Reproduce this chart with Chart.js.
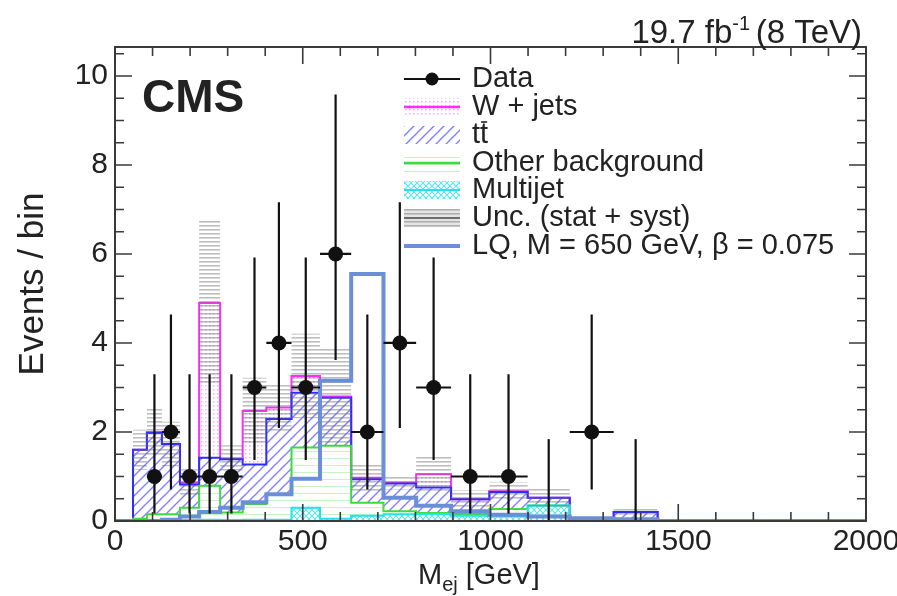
<!DOCTYPE html>
<html>
<head>
<meta charset="utf-8">
<script src="https://cdn.jsdelivr.net/npm/chart.js@4.4.1/dist/chart.umd.min.js"></script>
<style>
  html, body { margin: 0; padding: 0; background: #ffffff; }
  #wrap { width: 897px; height: 596px; position: relative; }
</style>
</head>
<body>
<div id="wrap"><canvas id="c" width="897" height="596"></canvas></div>
<script>
// ---------------- values (events per bin, variable-width M_ej bins in GeV) ----------------
const binEdges  = [48, 85, 125, 173, 224, 280, 340, 403, 470, 546, 629, 715, 802, 895, 997, 1099, 1211, 1328, 1445];
const multijet  = [0, 0, 0, 0.02, 0.03, 0.02, 0.03, 0.03, 0.30, 0.05, 0.12, 0.15, 0.16, 0.12, 0.10, 0.35, 0, 0];
const otherBkg  = [0.05, 0.15, 0.15, 0.28, 0.76, 0.17, 0.35, 0.57, 1.35, 1.64, 0.29, 0.07, 0.02, 0.04, 0.17, 0, 0, 0];
const ttbar     = [1.55, 1.83, 1.58, 0.52, 0.63, 1.20, 0.89, 1.69, 1.23, 1.08, 0.53, 0.62, 0.57, 0.33, 0.38, 0.17, 0, 0.20];
const wjets     = [0, 0.02, 0, 0.04, 3.48, 0.01, 1.20, 0.26, 0.38, 0.03, 0.03, 0.02, 0.30, 0, 0.02, 0, 0, 0];
const bkgUnc    = [0.45, 0.55, 0.50, 0.30, 1.84, 0.30, 0.75, 0.55, 0.95, 1.10, 0.30, 0.15, 0.40, 0.20, 0.20, 0.20, 0, 0.10];

const lqEdges   = [0, 48, 85, 125, 173, 224, 280, 340, 403, 470, 546, 629, 715, 802, 895, 997, 1099, 1211, 1328, 1445, 2000];
const lqSignal  = [0, 0, 0, 0.03, 0.10, 0.20, 0.30, 0.42, 0.60, 0.95, 3.15, 5.55, 0.52, 0.34, 0.22, 0.14, 0.10, 0.06, 0.04, 0];

const dataCounts  = [null, 1, 2, 1, 1, 1, 3, 4, 3, 6, 2, 4, 3, 1, 1, 0, 2, 0];
const dataErrLow  = [null, 0.83, 1.29, 0.83, 0.83, 0.83, 1.63, 1.91, 1.63, 2.38, 1.29, 1.91, 1.63, 0.83, 0.83, 0, 1.29, 0];
const dataErrHigh = [null, 2.30, 2.64, 2.30, 2.30, 2.30, 2.92, 3.16, 2.92, 3.58, 2.64, 3.16, 2.92, 2.30, 2.30, 1.84, 2.64, 1.84];

const xTickLabels = [0, 500, 1000, 1500, 2000];
const yTickLabels = [0, 2, 4, 6, 8, 10];
const xMinorStep = 100;
const yMinorStep = 0.5;
const xRange = [0, 2000];
const yRange = [0, 10.65];

// ---------------- helpers ----------------
const ctx0 = document.getElementById('c').getContext('2d');

function makePattern(size, draw) {
  const c = document.createElement('canvas');
  c.width = size; c.height = size;
  const g = c.getContext('2d');
  draw(g, size);
  return ctx0.createPattern(c, 'repeat');
}
function diag(g, s, dir) {
  g.beginPath();
  if (dir > 0) {
    g.moveTo(0, s); g.lineTo(s, 0);
    g.moveTo(-s, s); g.lineTo(s, -s);
    g.moveTo(0, 2 * s); g.lineTo(2 * s, 0);
  } else {
    g.moveTo(0, 0); g.lineTo(s, s);
    g.moveTo(-s, 0); g.lineTo(s, 2 * s);
    g.moveTo(0, -s); g.lineTo(2 * s, s);
  }
  g.stroke();
}

const patTT = makePattern(10, (g, s) => { g.strokeStyle = '#8080ff'; g.lineWidth = 1.4; diag(g, s, 1); });
const patOther = makePattern(7, (g, s) => { g.fillStyle = 'rgba(130,230,130,0.45)'; g.fillRect(0, 3, s, 1); });
const patMJ = makePattern(6, (g, s) => { g.strokeStyle = '#55e8f2'; g.lineWidth = 1.1; diag(g, s, 1); diag(g, s, -1); });
const patW = makePattern(4, (g, s) => { g.fillStyle = '#ffa6ff'; g.fillRect(1, 1, 1.5, 1.5); });
const patUnc = makePattern(4, (g, s) => { g.fillStyle = 'rgba(110,110,110,0.45)'; g.fillRect(0, 1, s, 1.6); });

// step outline of a histogram, optionally closed down to zero at both ends
function stepPoints(edges, vals, closed) {
  const pts = [];
  if (closed) pts.push({ x: edges[0], y: 0 });
  for (let i = 0; i < vals.length; i++) pts.push({ x: edges[i], y: vals[i] });
  pts.push({ x: edges[edges.length - 1], y: vals[vals.length - 1] });
  if (closed) pts.push({ x: edges[edges.length - 1], y: 0 });
  return pts;
}

const cumMJ = multijet.map(v => v);
const cumOther = cumMJ.map((v, i) => v + otherBkg[i]);
const cumTT = cumOther.map((v, i) => v + ttbar[i]);
const cumW = cumTT.map((v, i) => v + wjets[i]);
const uncLow = cumW.map((v, i) => Math.max(0, v - bkgUnc[i]));
const uncHigh = cumW.map((v, i) => v + bkgUnc[i]);

const COL = {
  mj: '#27dff0', other: '#3ddc3d', tt: '#2d2dff', w: '#ff2cff', lq: '#6b8fd6', data: '#111111', frame: '#3a3a3a'
};

function lineDs(label, pts, color, bg, fill, order, width) {
  return {
    label, data: pts, borderColor: color, backgroundColor: bg, fill, order,
    borderWidth: width, stepped: true, pointRadius: 0, pointHoverRadius: 0, tension: 0
  };
}

const datasets = [
  lineDs('Multijet', stepPoints(binEdges, cumMJ, true), COL.mj, patMJ, 'origin', 10, 2),
  lineDs('Other background', stepPoints(binEdges, cumOther, true), COL.other, patOther, '-1', 11, 2),
  lineDs('tt', stepPoints(binEdges, cumTT, true), COL.tt, patTT, '-1', 12, 2),
  lineDs('W + jets', stepPoints(binEdges, cumW, true), COL.w, patW, '-1', 13, 2),
  lineDs('unc-low', stepPoints(binEdges, uncLow, false), 'rgba(0,0,0,0)', 'rgba(0,0,0,0)', false, 5, 0),
  lineDs('Unc. (stat + syst)', stepPoints(binEdges, uncHigh, false), 'rgba(0,0,0,0)', patUnc, '-1', 4, 0),
  lineDs('LQ', stepPoints(lqEdges, lqSignal, false), COL.lq, 'rgba(0,0,0,0)', false, 1, 4)
];

const FONT = '"Liberation Sans", Arial, Helvetica, sans-serif';

// data points with asymmetric Poisson error bars
const dataPointsPlugin = {
  id: 'dataPoints',
  afterDatasetsDraw(chart) {
    const { ctx, scales: { x, y } } = chart;
    ctx.save();
    ctx.strokeStyle = COL.data;
    ctx.fillStyle = COL.data;
    ctx.lineWidth = 2.2;
    for (let i = 0; i < dataCounts.length; i++) {
      const n = dataCounts[i];
      if (n === null) continue;
      const cx = x.getPixelForValue((binEdges[i] + binEdges[i + 1]) / 2);
      const cy = y.getPixelForValue(n);
      ctx.beginPath();
      ctx.moveTo(cx, y.getPixelForValue(n - dataErrLow[i]));
      ctx.lineTo(cx, y.getPixelForValue(n + dataErrHigh[i]));
      if (n > 0) {
        ctx.moveTo(x.getPixelForValue(binEdges[i]), cy);
        ctx.lineTo(x.getPixelForValue(binEdges[i + 1]), cy);
      }
      ctx.stroke();
      if (n > 0) {
        ctx.beginPath();
        ctx.arc(cx, cy, 7.5, 0, Math.PI * 2);
        ctx.fill();
      }
    }
    ctx.restore();
  }
};

// frame with inward ticks, labels, titles and legend
const decorPlugin = {
  id: 'decor',
  afterDraw(chart) {
    const { ctx, chartArea: a, scales: { x, y } } = chart;
    ctx.save();
    // frame
    ctx.strokeStyle = COL.frame;
    ctx.lineWidth = 2;
    ctx.strokeRect(a.left, a.top, a.right - a.left, a.bottom - a.top);
    // ticks
    ctx.lineWidth = 1.6;
    ctx.beginPath();
    for (let v = xRange[0]; v <= xRange[1] + 1e-6; v += xMinorStep) {
      const px = x.getPixelForValue(v);
      const len = (Math.abs(v % 500) < 1e-6) ? 17 : 9;
      ctx.moveTo(px, a.bottom); ctx.lineTo(px, a.bottom - len);
      ctx.moveTo(px, a.top); ctx.lineTo(px, a.top + len);
    }
    for (let v = yRange[0]; v <= yRange[1] + 1e-6; v += yMinorStep) {
      const py = y.getPixelForValue(v);
      const len = (Math.abs(v % 2) < 1e-6) ? 17 : 9;
      ctx.moveTo(a.left, py); ctx.lineTo(a.left + len, py);
      ctx.moveTo(a.right, py); ctx.lineTo(a.right - len, py);
    }
    ctx.stroke();

    // tick labels
    ctx.fillStyle = '#222';
    ctx.font = '30px ' + FONT;
    ctx.textAlign = 'center';
    ctx.textBaseline = 'middle';
    xTickLabels.forEach(v => ctx.fillText(String(v), x.getPixelForValue(v), a.bottom + 21));
    ctx.textAlign = 'right';
    yTickLabels.forEach(v => ctx.fillText(String(v), a.left - 7, y.getPixelForValue(v)));

    // y title
    ctx.save();
    ctx.translate(33, (a.top + a.bottom) / 2);
    ctx.rotate(-Math.PI / 2);
    ctx.textAlign = 'center';
    ctx.font = '35px ' + FONT;
    ctx.fillText('Events / bin', 0, 0);
    ctx.restore();

    // x title with subscript
    ctx.textAlign = 'left';
    ctx.textBaseline = 'alphabetic';
    let tx = 418;
    const tb = 584;
    ctx.font = '29px ' + FONT;
    ctx.fillText('M', tx, tb); tx += ctx.measureText('M').width;
    ctx.font = '20px ' + FONT;
    ctx.fillText('ej', tx, tb + 7); tx += ctx.measureText('ej').width;
    ctx.font = '29px ' + FONT;
    ctx.fillText(' [GeV]', tx, tb);

    // luminosity label
    const p1 = '19.7 fb', p3 = '(8 TeV)';
    ctx.font = '33px ' + FONT; const w1 = ctx.measureText(p1).width; const w3 = ctx.measureText(p3).width;
    ctx.font = '20px ' + FONT; const w2 = ctx.measureText('-1 ').width;
    let lx = 862 - (w1 + w2 + w3);
    const lb = 43;
    ctx.font = '33px ' + FONT; ctx.fillText(p1, lx, lb); lx += w1;
    ctx.font = '20px ' + FONT; ctx.fillText('-1', lx, lb - 13); lx += w2;
    ctx.font = '33px ' + FONT; ctx.fillText(p3, lx, lb);

    // CMS
    ctx.font = 'bold 46px ' + FONT;
    ctx.fillText('CMS', 142, 112);

    // legend
    const lgX0 = 404, lgX1 = 460, txtX = 472;
    const rowY = [79, 107, 135, 163, 190, 218, 246];
    const boxH = 18;
    ctx.font = '29px ' + FONT;
    ctx.textBaseline = 'middle';
    const labels = ['Data', 'W + jets', 'tt', 'Other background', 'Multijet', 'Unc. (stat + syst)', 'LQ, M = 650 GeV, \u03b2 = 0.075'];
    labels.forEach((t, i) => { ctx.fillStyle = '#222'; ctx.fillText(t, txtX, rowY[i]); });
    // bar over second t of tt
    {
      const wt = ctx.measureText('t').width;
      ctx.strokeStyle = '#222'; ctx.lineWidth = 1.6;
      ctx.beginPath();
      ctx.moveTo(txtX + wt + 1, rowY[2] - 13); ctx.lineTo(txtX + 2 * wt - 1, rowY[2] - 13);
      ctx.stroke();
    }
    // swatches
    function box(i, pat) { ctx.fillStyle = pat; ctx.fillRect(lgX0, rowY[i] - boxH / 2, lgX1 - lgX0, boxH); }
    function hline(i, col, w) { ctx.strokeStyle = col; ctx.lineWidth = w; ctx.beginPath(); ctx.moveTo(lgX0, rowY[i]); ctx.lineTo(lgX1, rowY[i]); ctx.stroke(); }
    hline(0, COL.data, 2);
    ctx.fillStyle = COL.data; ctx.beginPath(); ctx.arc((lgX0 + lgX1) / 2, rowY[0], 6.5, 0, Math.PI * 2); ctx.fill();
    box(1, patW); hline(1, COL.w, 2.5);
    box(2, patTT);
    box(3, patOther); hline(3, COL.other, 2.5);
    box(4, patMJ); hline(4, COL.mj, 2);
    ctx.fillStyle = 'rgba(210,210,210,0.6)'; ctx.fillRect(lgX0, rowY[5] - boxH / 2, lgX1 - lgX0, boxH);
    box(5, patUnc); hline(5, '#555', 1.5);
    hline(6, COL.lq, 4);
    ctx.restore();
  }
};

new Chart(document.getElementById('c'), {
  type: 'line',
  data: { datasets },
  options: {
    responsive: false,
    animation: false,
    devicePixelRatio: 1,
    layout: { padding: { left: 115, right: 31, top: 47, bottom: 75 } },
    plugins: { legend: { display: false }, tooltip: { enabled: false } },
    scales: {
      x: { type: 'linear', min: xRange[0], max: xRange[1], display: false },
      y: { type: 'linear', min: yRange[0], max: yRange[1], display: false }
    }
  },
  plugins: [dataPointsPlugin, decorPlugin]
});
</script>
</body>
</html>
